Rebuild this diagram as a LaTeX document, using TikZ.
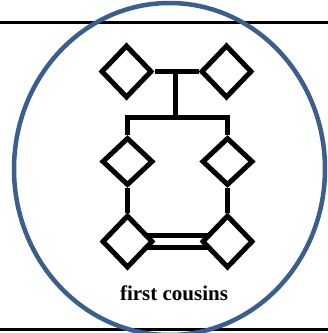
\documentclass[tikz,border=0pt]{standalone}
\usepackage{fontspec}
\setmainfont{Liberation Serif}
\usetikzlibrary{shapes.geometric,backgrounds}
\definecolor{ringblue}{RGB}{59,94,140}
\begin{document}
\begin{tikzpicture}[x=1pt, y=-1pt, line width=5pt,
  person/.style={diamond, draw, fill=white, inner sep=0pt, minimum width=51pt, minimum height=53pt},
  rule/.style={line width=2.2pt}]
\useasboundingbox (0,0) rectangle (328,333);
\draw[rule](0,22.5)--(328,22.5);
\draw[rule](0,329.5)--(328,329.5);
% grandparents
\node[person](gpa) at (126.5,71.5){};
\node[person](gma) at (226.5,71.5){};
% their children
\node[person, minimum height=48pt](kidL) at (127.5,161.5){};
\node[person, minimum height=48pt](kidR) at (227.5,161.5){};
% the cousins
\node[person](cousL) at (127.5,241.5){};
\node[person](cousR) at (227.5,241.5){};
\coordinate (sib) at (175,117.5);
\draw (gpa.east)--(gma.west);
\draw (sib|-gpa.east)--(sib);
\draw (kidL.north)|-(sib)-|(kidR.north);
\draw (kidL.south)--(cousL.north);
\draw (kidR.south)--(cousR.north);
\begin{scope}[on background layer]
\draw[line width=5pt, double, double distance=7pt](cousL.center)--(cousR.center);
\end{scope}
\node[anchor=base, font=\bfseries\fontsize{21}{21}\selectfont](caption) at (174,300){first cousins};
\draw[ringblue, line width=4.5pt](169.5,169) ellipse [x radius=155.5pt, y radius=166pt];
\end{tikzpicture}
\end{document}
